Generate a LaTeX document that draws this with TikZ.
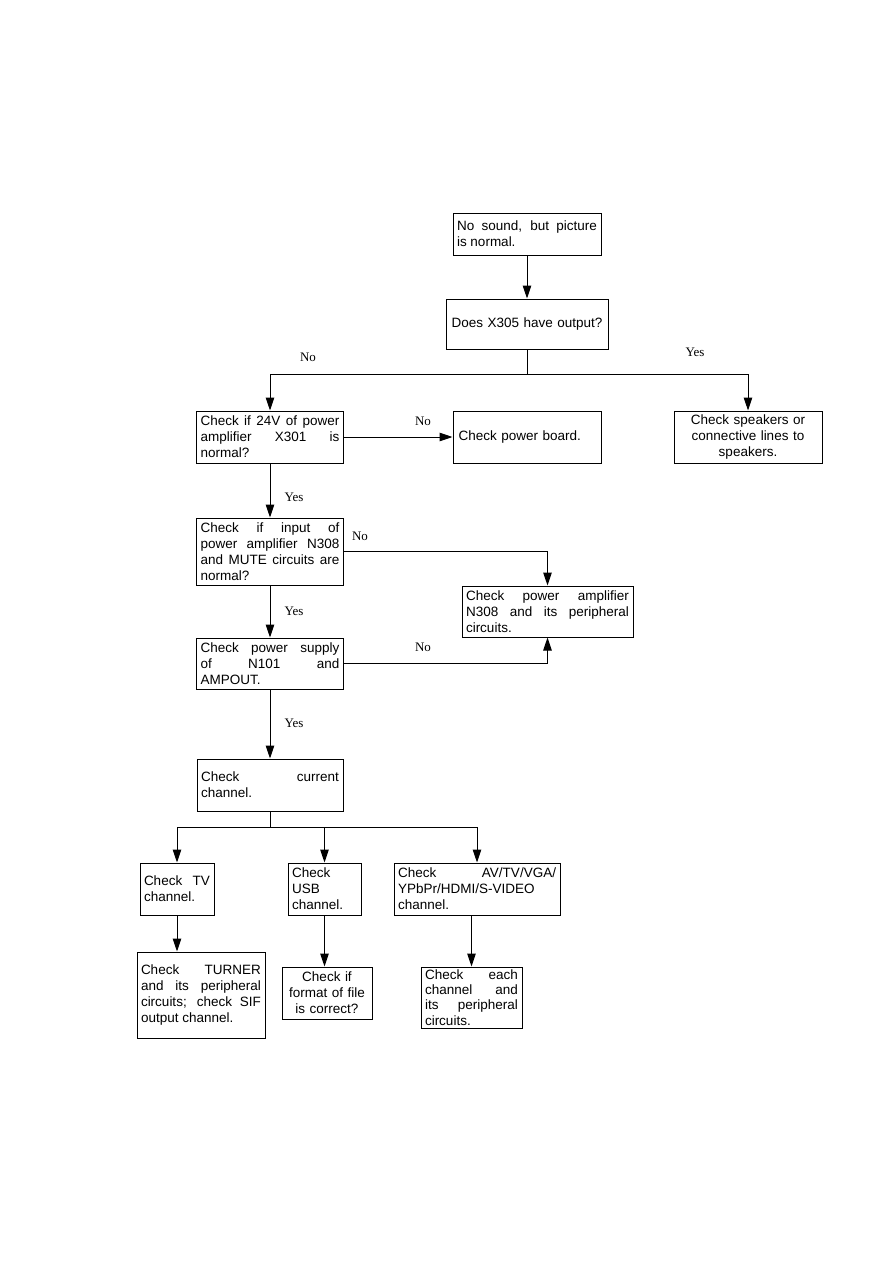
\documentclass[tikz,border=0pt]{standalone}
\usepackage{fontspec}
\newfontfamily\boxfam{Liberation Sans}
\newfontfamily\lblfam{Liberation Serif}
\usetikzlibrary{arrows.meta}
\tikzset{
  box/.style={draw, line width=1pt, inner xsep=4pt, inner ysep=0pt, align=justify,
    font=\boxfam\fontsize{13.5}{16}\selectfont},
  lbl/.style={font=\lblfam\fontsize{13}{15}\selectfont, inner sep=0pt},
  ln/.style={line width=1pt},
  arr/.style={line width=1pt, -{Triangle[length=13pt,width=8.5pt]}}
}
\begin{document}
\begin{tikzpicture}[x=1pt,y=-1pt]
\useasboundingbox (0,0) rectangle (893,1263);
% boxes
\node[box, text width=140pt, minimum width=148pt, minimum height=42pt] (start) at (527,234) {No sound, but picture\linebreak is normal.};
\node[box, align=center, text width=154pt, minimum width=162pt, minimum height=50pt] (q1) at (527,324) {Does X305 have output?};
\node[box, text width=139pt, minimum width=147pt, minimum height=52pt] (b24) at (270,437) {Check if 24V of power\linebreak amplifier X301 is\linebreak normal?};
\node[box, align=left, text width=140pt, minimum width=148pt, minimum height=52pt, inner xsep=5.5pt, text width=137pt] (pb) at (527,437) {Check power board.};
\node[box, align=center, text width=140pt, minimum width=148pt, minimum height=52pt] (spk) at (748,437) {Check speakers or\\connective lines to\\speakers.};
\node[box, text width=139pt, minimum width=147pt, minimum height=67pt] (inp) at (270,551.5) {Check if input of\linebreak power amplifier N308\linebreak and MUTE circuits are\linebreak normal?};
\node[box, text width=163pt, minimum width=171pt, minimum height=51pt] (amp) at (547.5,611.5) {Check power amplifier\linebreak N308 and its peripheral\linebreak circuits.};
\node[box, text width=139pt, minimum width=147pt, minimum height=51pt] (ps) at (270,663.5) {Check power supply\linebreak of N101 and\linebreak AMPOUT.};
\node[box, text width=138pt, minimum width=146pt, minimum height=52pt] (cur) at (270,785) {Check current\linebreak channel.};
\node[box, text width=66pt, minimum width=74pt, minimum height=52pt] (tv) at (177,889) {Check TV\linebreak channel.};
\node[box, align=left, text width=65pt, minimum width=73pt, minimum height=52pt] (usb) at (324.5,889) {Check\\USB\\channel.};
\node[box, text width=158pt, minimum width=166pt, minimum height=52pt] (av) at (477,889) {Check AV/TV/VGA/\linebreak YPbPr/HDMI/S-VIDEO\\channel.};
\node[box, text width=120pt, minimum width=128pt, minimum height=86pt] (tur) at (201,995) {Check TURNER\linebreak and its peripheral\linebreak circuits; check SIF\linebreak output channel.};
\node[box, align=center, text width=82pt, minimum width=90pt, minimum height=52pt] (fmt) at (327,993) {Check if\\format of file\\is correct?};
\node[box, text width=93pt, minimum width=101pt, minimum height=61pt, font=\boxfam\fontsize{13.5}{15.3}\selectfont] (each) at (471.5,997.5) {Check each\linebreak channel and\linebreak its peripheral\linebreak circuits.};
% junctions
\coordinate (j1) at (527,374);
\coordinate (j2) at (270,827);
% connectors
\draw[arr] (start) -- (q1);
\draw[ln] (q1.south) -- (j1);
\draw[arr] (j1) -| (b24.north);
\draw[arr] (j1) -| (spk.north);
\draw[arr] (b24.east) -- (pb.west);
\draw[arr] (b24) -- (inp);
\draw[arr] (inp.east) -| (amp.north);
\draw[arr] (inp) -- (ps);
\draw[arr] (ps.east) -| (amp.south);
\draw[arr] (ps) -- (cur);
\draw[ln] (cur.south) -- (j2);
\draw[arr] (j2) -| (tv.north);
\draw[arr] (j2) -| (usb.north);
\draw[arr] (j2) -| (av.north);
\draw[arr] (tv.south) -- (tv.south |- tur.north);
\draw[arr] (usb.south) -- (usb.south |- fmt.north);
\draw[arr] (each.north |- av.south) -- (each.north);
% labels
\node[lbl] (l1) at (308,357) {No};
\node[lbl] (l2) at (695,352) {Yes};
\node[lbl] (l3) at (423,421) {No};
\node[lbl] (l4) at (294,497) {Yes};
\node[lbl] (l5) at (360,536) {No};
\node[lbl] (l6) at (294,611) {Yes};
\node[lbl] (l7) at (423,647) {No};
\node[lbl] (l8) at (294,723) {Yes};
\end{tikzpicture}
\end{document}
